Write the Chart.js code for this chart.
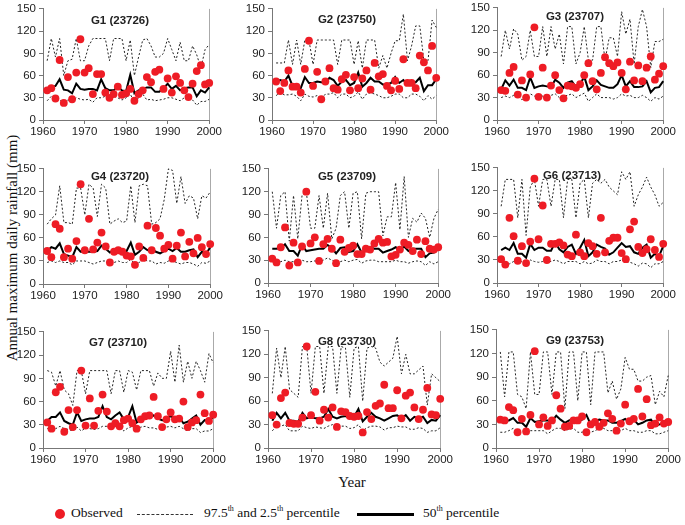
<!DOCTYPE html>
<html>
<head>
<meta charset="utf-8">
<script src="https://cdn.jsdelivr.net/npm/chart.js@4.4.0/dist/chart.umd.min.js"></script>
<style>
  body { margin: 0; background: #fff; width: 685px; height: 525px; position: relative; overflow: hidden;
         font-family: "Liberation Serif", "Times New Roman", serif; color: #111; }
  canvas { position: absolute; }
  .ptitle { position: absolute; transform: translateX(-50%); white-space: nowrap;
            font: bold 11.5px "Liberation Sans", Arial, sans-serif; color: #222; }
  #ytitle { position: absolute; left: 12px; top: 248px; white-space: nowrap; font-size: 15px;
            transform: translate(-50%, -50%) rotate(-90deg); }
  #xtitle { position: absolute; left: 352px; top: 474px; font-size: 15px; transform: translateX(-50%); }
  #legend { position: absolute; left: 0; top: 505px; width: 685px; height: 20px; font-size: 13.5px; }
  #legend span, #legend i { position: absolute; top: 0; white-space: nowrap; }
  sup { font-size: 8px; vertical-align: 6px; line-height: 0; }
</style>
</head>
<body>
<div id="ytitle">Annual maximum daily rainfall (mm)</div>
<div id="xtitle">Year</div>
<div id="legend">
  <i style="left:55px;top:4px;width:10px;height:10px;border-radius:50%;background:#ee1c25"></i>
  <span style="left:71px">Observed</span>
  <i style="left:137px;top:9px;width:56px;border-top:1px dashed #333"></i>
  <span style="left:204px">97.5<sup>th</sup> and 2.5<sup>th</sup> percentile</span>
  <i style="left:357px;top:8px;width:57px;border-top:3px solid #000"></i>
  <span style="left:423px">50<sup>th</sup> percentile</span>
</div>
<script>
// ---- data ----
const years = [1961,1962,1963,1964,1965,1966,1967,1968,1969,1970,
               1971,1972,1973,1974,1975,1976,1977,1978,1979,1980,
               1981,1982,1983,1984,1985,1986,1987,1988,1989,1990,
               1991,1992,1993,1994,1995,1996,1997,1998,1999,2000];
const xTicks = [1960, 1970, 1980, 1990, 2000];
const yTicks = [0, 30, 60, 90, 120, 150];
const stations = ['G1 (23726)', 'G2 (23750)', 'G3 (23707)', 'G4 (23720)', 'G5 (23709)',
                  'G6 (23713)', 'G7 (23710)', 'G8 (23730)', 'G9 (23753)'];

const g1Obs = [40,43,29,81,23,58,28,64,109,64,70,35,62,62,37,30,35,45,34,36,42,26,35,40,58,51,65,68,42,56,37,59,50,40,31,49,66,74,48,50];
const g1Med = [42,44,46,55,41,40,36,49,42,41,42,42,40,55,43,40,40,45,40,39,61,36,40,42,44,44,38,38,43,49,42,46,40,43,44,44,32,40,37,44];
const g1Hi  = [80,110,85,110,60,80,82,110,80,80,100,110,110,110,110,80,110,110,110,80,108,60,85,108,110,100,85,85,90,110,95,80,105,80,80,100,88,70,95,102];
const g1Lo  = [26,32,30,27,24,27,26,30,28,27,28,24,30,30,32,30,32,30,27,30,35,24,30,35,27,28,26,27,28,30,30,28,26,30,32,27,20,25,25,28];

const g2Obs = [52,39,50,67,45,45,37,69,107,46,65,28,52,70,43,41,55,61,40,58,43,56,67,41,77,59,62,46,40,53,42,82,50,50,43,87,78,67,100,57];
const g2Med = [52,54,52,60,46,47,43,58,50,50,52,51,50,57,54,46,52,54,47,50,64,45,50,57,52,52,48,48,50,58,50,54,48,50,51,57,39,47,47,55];
const g2Hi  = [77,77,77,108,75,108,75,108,108,75,108,108,108,108,108,75,108,108,108,75,107,70,108,108,108,70,87,70,90,107,107,143,80,100,127,127,80,80,135,125];
const g2Lo  = [33,37,34,34,35,32,26,35,32,31,33,28,35,35,37,30,35,35,30,32,38,28,35,37,35,33,30,30,32,35,35,30,30,35,35,32,26,33,28,33];

const g3Obs = [40,39,63,71,34,53,30,61,124,31,70,30,46,60,40,29,46,45,43,48,60,76,52,41,63,84,76,72,77,63,41,78,53,73,52,70,85,54,62,72];
const g3Med = [41,53,46,54,43,43,40,57,43,45,46,45,44,54,50,43,50,52,44,48,58,40,45,53,47,45,43,43,48,60,45,52,44,44,45,52,37,43,44,52];
const g3Hi  = [85,120,95,122,115,80,85,120,85,85,125,85,125,95,115,75,125,125,75,90,125,80,80,125,125,80,110,110,85,145,115,135,75,125,148,125,70,105,105,108];
const g3Lo  = [30,32,30,33,35,27,30,35,32,30,32,28,33,35,30,32,33,35,30,33,36,25,30,35,30,30,30,28,30,35,32,33,30,30,33,30,25,30,28,32];

const g4Obs = [43,35,78,72,35,46,33,56,130,44,85,45,54,67,49,28,42,44,42,37,36,25,49,34,76,44,73,63,46,51,33,50,67,36,55,40,60,48,39,52];
const g4Med = [43,48,46,53,39,37,35,48,42,42,42,42,43,50,46,41,45,45,42,43,54,38,42,48,44,46,42,40,43,46,43,47,42,42,44,45,35,42,39,48];
const g4Hi  = [78,85,90,128,80,80,78,125,125,90,130,125,88,130,125,78,82,85,80,82,128,80,128,130,128,78,80,85,110,150,148,105,140,105,115,112,85,115,112,120];
const g4Lo  = [28,30,28,30,28,28,25,30,30,30,28,26,28,30,30,27,28,30,28,28,32,26,28,32,30,30,26,28,27,30,30,28,26,28,28,26,23,28,27,30];

const g5Obs = [32,27,47,73,23,53,27,48,120,52,60,29,51,58,45,26,57,41,46,49,38,38,45,44,52,58,53,54,35,37,44,53,50,42,57,38,55,45,44,47];
const g5Med = [45,45,46,51,42,42,36,50,42,43,44,45,45,50,46,39,46,47,41,42,51,40,44,47,45,45,40,42,44,47,44,48,42,45,45,45,34,39,40,45];
const g5Hi  = [120,72,115,120,55,115,58,115,120,72,72,115,72,118,58,72,115,120,72,118,120,58,118,120,120,120,62,87,87,132,70,140,60,85,80,92,85,60,85,97];
const g5Lo  = [28,29,28,30,28,28,26,30,28,28,29,28,30,33,30,28,28,30,28,30,31,26,29,30,30,28,28,28,28,30,28,28,26,28,29,28,23,28,25,28];

const g6Obs = [31,24,85,61,29,48,26,54,136,57,101,30,51,51,53,49,37,35,63,40,35,52,48,38,85,40,55,59,59,39,31,70,80,47,39,44,57,43,34,51];
const g6Med = [43,46,43,52,38,38,33,51,43,46,46,42,42,53,44,40,47,50,38,46,56,35,40,50,47,45,37,40,46,52,47,48,40,38,46,50,33,38,35,48];
const g6Hi  = [100,135,135,135,85,135,62,125,135,100,135,135,100,135,135,85,135,135,85,130,135,85,130,135,130,135,125,120,115,145,135,145,100,115,125,138,125,115,100,105];
const g6Lo  = [27,28,25,28,27,28,25,30,28,27,28,28,28,30,28,25,28,28,28,25,28,25,26,30,28,28,25,28,28,30,28,27,25,22,26,25,20,25,25,28];

const g7Obs = [33,25,72,79,21,49,27,49,100,29,64,29,48,69,47,28,32,28,36,38,32,25,37,41,42,66,41,27,37,46,37,38,60,27,33,36,69,45,35,43];
const g7Med = [35,40,40,46,35,32,30,46,35,37,38,38,40,54,40,37,42,46,37,40,54,33,37,42,40,42,38,36,36,42,36,40,32,34,38,42,30,36,35,40];
const g7Hi  = [100,98,80,100,75,70,55,100,100,70,100,100,100,100,100,70,100,100,72,100,98,75,100,100,100,80,97,90,90,125,85,133,85,112,90,112,100,85,122,110];
const g7Lo  = [25,25,25,28,25,24,22,27,22,26,25,24,25,28,28,25,27,27,22,26,28,24,27,28,26,26,24,25,27,28,26,28,25,22,25,25,20,22,22,25];

const g8Obs = [42,30,64,71,32,31,31,39,130,42,72,35,49,39,52,27,47,46,41,40,41,20,46,37,54,57,81,51,51,74,38,67,71,52,37,49,77,43,42,63];
const g8Med = [35,45,38,45,35,35,33,45,38,40,38,38,40,50,40,38,40,41,38,40,50,34,40,45,40,38,35,38,41,42,38,42,35,40,38,40,32,36,35,42];
const g8Hi  = [70,128,90,130,75,70,65,130,130,70,130,130,70,130,130,70,130,128,65,128,130,60,128,130,128,110,105,110,115,143,95,120,95,95,100,105,55,95,90,85];
const g8Lo  = [22,28,28,30,22,22,22,28,26,25,27,26,25,28,30,26,28,28,25,26,30,22,26,28,28,27,23,26,26,28,27,27,24,24,26,25,20,22,22,26];

const g9Obs = [36,35,52,48,20,37,21,42,123,30,39,28,35,67,50,27,28,35,35,40,20,30,33,27,32,44,37,22,31,55,34,37,75,40,62,29,31,39,31,33];
const g9Med = [33,35,35,38,32,32,27,38,33,34,35,35,34,41,36,32,35,37,34,36,42,30,34,36,35,35,32,32,34,37,32,36,30,32,35,36,28,30,32,36];
const g9Hi  = [122,65,122,122,68,65,50,122,68,68,122,122,68,122,122,50,122,122,60,122,122,55,122,122,122,70,85,62,75,115,100,100,85,85,90,92,55,72,65,92];
const g9Lo  = [20,20,22,25,22,22,20,22,22,22,22,18,22,25,25,22,24,25,20,20,23,20,22,25,25,22,22,22,22,25,22,22,20,20,22,22,18,18,20,22];

// plot-area boxes: left, top, width, height (pixels on the page)
const boxes = [
  [43, 7, 170, 113], [272, 7, 168, 113], [497, 6, 170, 114],
  [43, 167, 171, 117], [268, 167, 174, 116], [497, 166, 170, 117],
  [43, 330, 174, 118], [268, 329, 176, 119], [496, 328, 176, 120]
];
// title centre (x, y) inside each panel
const titlePos = [[120, 14], [347, 13], [575, 10], [120, 170], [347, 170], [572, 169], [118, 336], [347, 335], [575, 334]];

const panels = [
  [g1Obs, g1Med, g1Hi, g1Lo], [g2Obs, g2Med, g2Hi, g2Lo], [g3Obs, g3Med, g3Hi, g3Lo],
  [g4Obs, g4Med, g4Hi, g4Lo], [g5Obs, g5Med, g5Hi, g5Lo], [g6Obs, g6Med, g6Hi, g6Lo],
  [g7Obs, g7Med, g7Hi, g7Lo], [g8Obs, g8Med, g8Hi, g8Lo], [g9Obs, g9Med, g9Hi, g9Lo]
];

const AXW = 40, AXH = 22, PADT = 8, PADR = 10;
const tickFont = { family: '"Liberation Sans", Arial, sans-serif', size: 11.5 };

// thin grey line on the right edge of the plot area
const rightEdge = {
  id: 'rightEdge',
  beforeDatasetsDraw(chart) {
    const { ctx, chartArea: a } = chart;
    ctx.save();
    ctx.strokeStyle = '#aaa';
    ctx.lineWidth = 1;
    ctx.beginPath();
    ctx.moveTo(Math.round(a.right) + 0.5, a.top);
    ctx.lineTo(Math.round(a.right) + 0.5, a.bottom);
    ctx.stroke();
    ctx.restore();
  }
};

function pts(arr) {
  return years.map((yr, i) => ({ x: yr, y: arr[i] }));
}

panels.forEach((p, k) => {
  const [left, top, w, h] = boxes[k];
  const cv = document.createElement('canvas');
  cv.width = w + AXW + PADR;
  cv.height = h + AXH + PADT;
  cv.style.left = (left - AXW) + 'px';
  cv.style.top = (top - PADT) + 'px';
  document.body.appendChild(cv);

  const t = document.createElement('div');
  t.className = 'ptitle';
  t.textContent = stations[k];
  t.style.left = titlePos[k][0] + 'px';
  t.style.top = titlePos[k][1] + 'px';
  document.body.appendChild(t);

  const dotted = { borderColor: '#222', borderWidth: 1, borderDash: [2, 2], pointRadius: 0, fill: false, tension: 0, clip: false };

  new Chart(cv.getContext('2d'), {
    type: 'line',
    data: {
      datasets: [
        { label: 'Observed', data: pts(p[0]), showLine: false, pointRadius: 3.9, pointBorderWidth: 0,
          pointBackgroundColor: '#ee1c25', pointBorderColor: '#ee1c25', clip: false },
        { label: '50th', data: pts(p[1]), borderColor: '#000', borderWidth: 2, pointRadius: 0, tension: 0, clip: false },
        Object.assign({ label: '97.5th', data: pts(p[2]) }, dotted),
        Object.assign({ label: '2.5th', data: pts(p[3]) }, dotted)
      ]
    },
    options: {
      responsive: false,
      animation: false,
      devicePixelRatio: 1,
      layout: { padding: { top: PADT, right: PADR, left: 0, bottom: 0 } },
      plugins: { legend: { display: false }, tooltip: { enabled: false } },
      scales: {
        x: {
          type: 'linear', min: 1960, max: 2000,
          afterFit: s => { s.height = AXH; },
          afterBuildTicks: s => { s.ticks = xTicks.map(v => ({ value: v })); },
          ticks: { font: tickFont, color: '#222', padding: 1, maxRotation: 0, callback: v => String(v) },
          grid: { drawOnChartArea: false, drawTicks: true, tickLength: 4, color: '#777' },
          border: { color: '#777' }
        },
        y: {
          min: 0, max: 150,
          afterFit: s => { s.width = AXW; },
          afterBuildTicks: s => { s.ticks = yTicks.map(v => ({ value: v })); },
          ticks: { font: tickFont, color: '#222', padding: 3 },
          grid: { drawOnChartArea: false, drawTicks: true, tickLength: 4, color: '#777' },
          border: { color: '#777' }
        }
      }
    },
    plugins: [rightEdge]
  });
});
</script>
</body>
</html>
